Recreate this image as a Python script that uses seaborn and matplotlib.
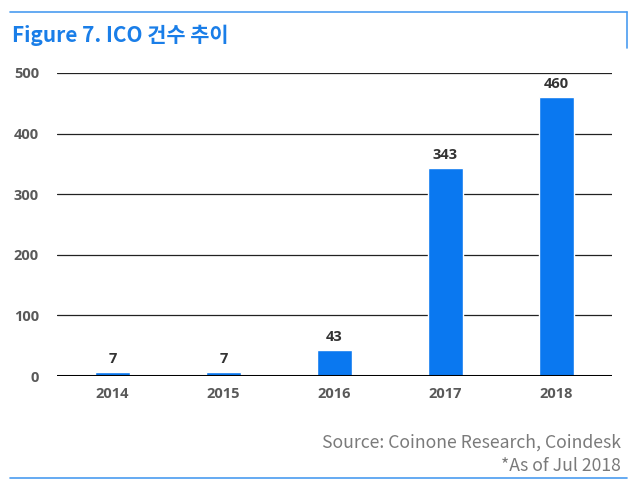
import matplotlib
matplotlib.use("Agg")
import matplotlib.pyplot as plt
import seaborn as sns
import pandas as pd
from matplotlib.lines import Line2D

years = ["2014", "2015", "2016", "2017", "2018"]
counts = [7, 7, 43, 343, 460]
yticks = [0, 100, 200, 300, 400, 500]

sns.set_theme(style="white")
plt.rcParams['font.family'] = ['Noto Sans CJK KR', 'DejaVu Sans']

df = pd.DataFrame({"year": years, "count": counts})

fig = plt.figure(figsize=(6.4, 4.9), dpi=100)
ax = fig.add_axes([57/640, 1-376/490, (612-57)/640, (376-73)/490])
sns.barplot(data=df, x="year", y="count", color="#0a78f0", saturation=1,
            width=0.32, ax=ax)
ax.set_xlim(-0.5, 4.5)
ax.set_ylim(0, 500)
ax.set_yticks(yticks)
ax.set_yticklabels([str(t) for t in yticks])
ax.yaxis.grid(True, color="#222222", linewidth=0.9)
ax.set_axisbelow(True)
for s in ax.spines.values():
    s.set_visible(False)
ax.axhline(0, color="black", linewidth=2.2, zorder=5)
ax.set_xlabel("")
ax.set_ylabel("")
ax.tick_params(axis="both", length=0, labelsize=10.5, labelcolor="#595959")
ax.tick_params(axis="y", pad=13)
ax.tick_params(axis="x", pad=8)
for lab in ax.get_xticklabels() + ax.get_yticklabels():
    lab.set_family(["Open Sans", "DejaVu Sans"])
    lab.set_fontweight("bold")
for i, v in enumerate(counts):
    ax.text(i, v + 10, str(v), ha="center", va="bottom", fontsize=10.5,
            fontweight="bold", color="#333333", family=["Open Sans", "DejaVu Sans"])

fig.text(12/640, 1-35/490, "Figure 7. ICO 건수 추이", ha="left", va="center",
         fontsize=15, fontweight="bold", color="#1a7ee8")
fig.text(621/640, 1-443/490, "Source: Coinone Research, Coindesk", ha="right",
         va="center", fontsize=12.7, color="#7a7a7a")
fig.text(621/640, 1-466/490, "*As of Jul 2018", ha="right",
         va="center", fontsize=12.7, color="#7a7a7a")

lc = "#4a9cf0"
fig.add_artist(Line2D([10/640, 627/640], [1-12/490, 1-12/490], color=lc, lw=1.2,
                      transform=fig.transFigure))
fig.add_artist(Line2D([627/640, 627/640], [1-12/490, 1-48/490], color=lc, lw=1.2,
                      transform=fig.transFigure))
fig.add_artist(Line2D([10/640, 627/640], [1-478/490, 1-478/490], color=lc, lw=1.2,
                      transform=fig.transFigure))

fig.savefig("out.png", dpi=100)
